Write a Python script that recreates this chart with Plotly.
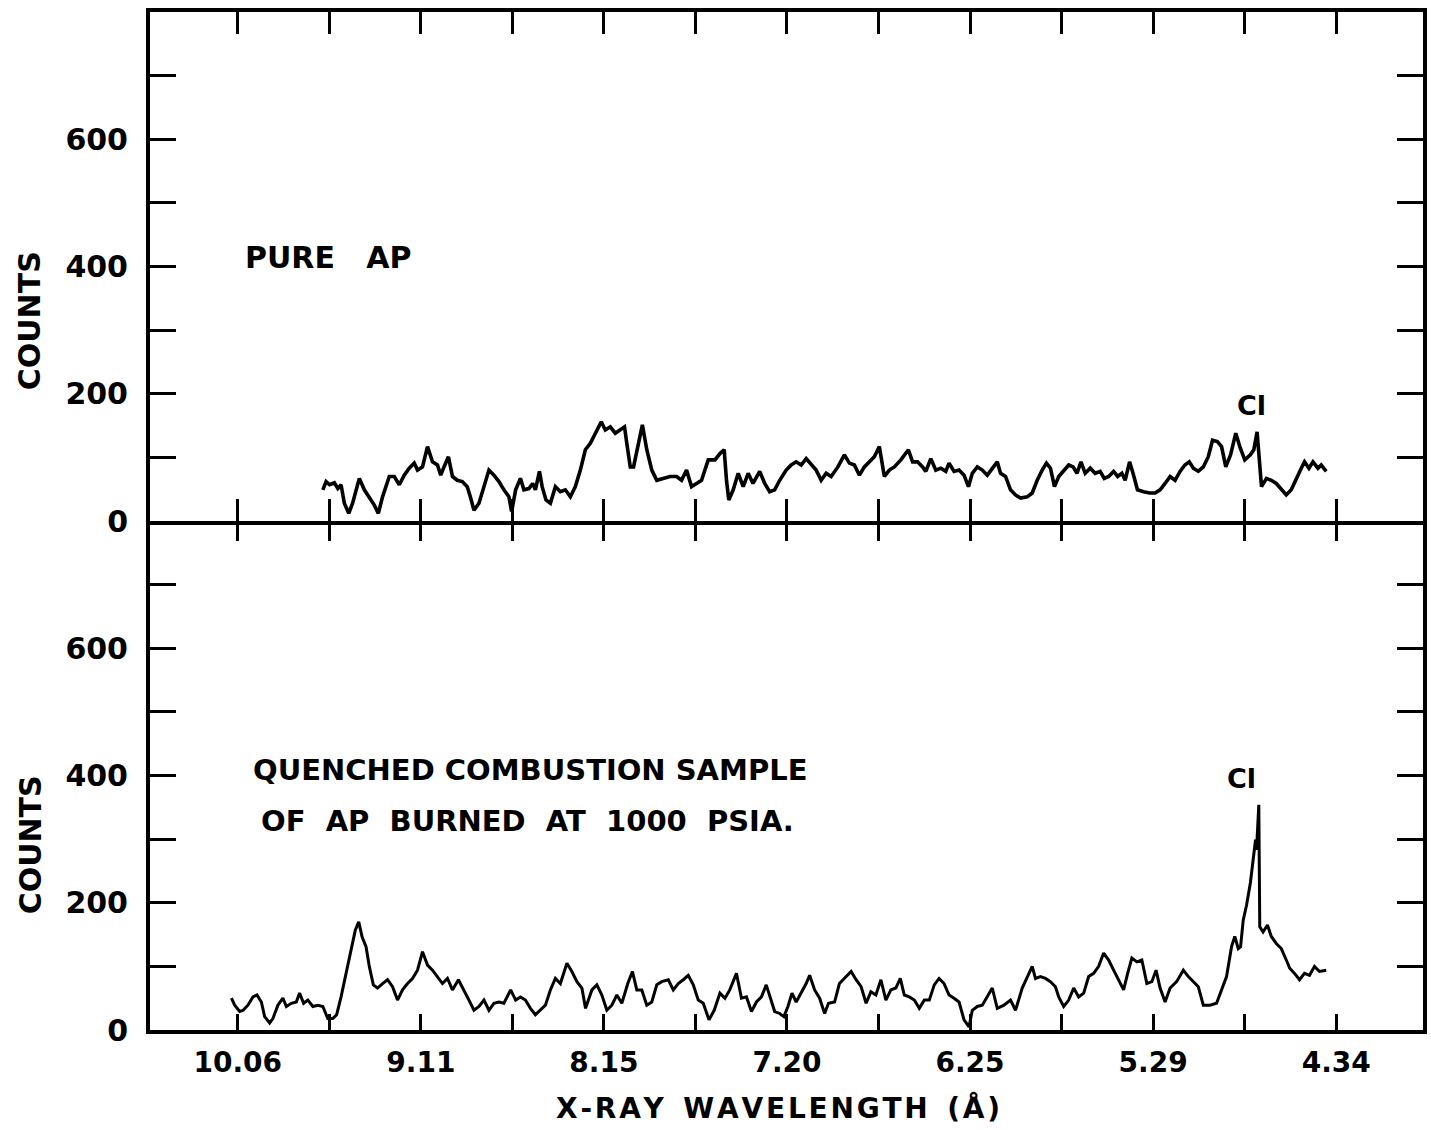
import plotly.graph_objects as go

# ---------------- data ----------------
top_wavelength = [
    9.617, 9.600, 9.582, 9.557, 9.539, 9.522, 9.505, 9.482, 9.462, 9.427,
    9.401, 9.375, 9.349, 9.328, 9.306, 9.271, 9.245, 9.219, 9.193, 9.167,
    9.141, 9.124, 9.098, 9.072, 9.046, 9.020, 9.003, 8.986, 8.963, 8.942,
    8.917, 8.891, 8.865, 8.847, 8.830, 8.804, 8.778, 8.752, 8.726, 8.700,
    8.674, 8.648, 8.634, 8.613, 8.588, 8.570, 8.544, 8.524, 8.510, 8.489,
    8.475, 8.455, 8.432, 8.406, 8.380, 8.354, 8.328, 8.302, 8.276, 8.250,
    8.224, 8.198, 8.167, 8.146, 8.120, 8.094, 8.068, 8.046, 8.034, 8.016,
    7.999, 7.973, 7.953, 7.930, 7.904, 7.878, 7.844, 7.809, 7.775, 7.749,
    7.723, 7.697, 7.671, 7.645, 7.610, 7.575, 7.549, 7.527, 7.515, 7.503,
    7.480, 7.454, 7.428, 7.402, 7.377, 7.342, 7.316, 7.290, 7.264, 7.238,
    7.204, 7.178, 7.152, 7.126, 7.100, 7.074, 7.048, 7.022, 6.996, 6.970,
    6.935, 6.901, 6.875, 6.849, 6.823, 6.797, 6.771, 6.745, 6.719, 6.693,
    6.667, 6.641, 6.607, 6.568, 6.546, 6.520, 6.494, 6.477, 6.451, 6.425,
    6.399, 6.373, 6.356, 6.330, 6.304, 6.278, 6.255, 6.235, 6.209, 6.183,
    6.157, 6.131, 6.105, 6.088, 6.062, 6.036, 6.010, 5.984, 5.949, 5.923,
    5.897, 5.871, 5.849, 5.828, 5.807, 5.785, 5.759, 5.733, 5.710, 5.690,
    5.669, 5.647, 5.621, 5.595, 5.569, 5.548, 5.525, 5.499, 5.478, 5.456,
    5.439, 5.416, 5.395, 5.375, 5.343, 5.312, 5.283, 5.257, 5.231, 5.205,
    5.179, 5.153, 5.128, 5.105, 5.084, 5.058, 5.032, 5.006, 4.984, 4.959,
    4.937, 4.915, 4.890, 4.863, 4.842, 4.816, 4.787, 4.769, 4.752, 4.738,
    4.729, 4.703, 4.678, 4.652, 4.626, 4.600, 4.574, 4.548, 4.522, 4.505,
    4.482, 4.461, 4.435, 4.418, 4.392,
]
top_counts = [
    49, 62, 57, 60, 51, 57, 28, 12, 28, 67,
    49, 38, 25, 12, 38, 70, 70, 57, 72, 83,
    91, 80, 85, 117, 93, 88, 72, 85, 101, 70,
    64, 62, 54, 36, 17, 28, 54, 80, 72, 62,
    49, 38, 15, 49, 67, 49, 51, 59, 49, 78,
    54, 33, 28, 54, 46, 49, 38, 54, 80, 112,
    122, 138, 156, 143, 148, 138, 143, 148, 122, 85,
    85, 122, 151, 112, 80, 64, 67, 70, 70, 64,
    80, 54, 59, 64, 96, 96, 106, 112, 64, 33,
    49, 75, 54, 75, 59, 78, 59, 46, 49, 64,
    80, 88, 93, 88, 98, 88, 80, 64, 75, 70,
    85, 104, 91, 88, 72, 85, 93, 101, 117, 70,
    80, 85, 96, 112, 93, 93, 85, 78, 98, 80,
    83, 78, 91, 78, 80, 72, 54, 75, 85, 80,
    72, 83, 93, 75, 70, 49, 41, 36, 38, 44,
    64, 80, 91, 83, 54, 70, 80, 88, 85, 75,
    93, 75, 83, 75, 78, 67, 70, 78, 70, 75,
    64, 93, 72, 49, 46, 44, 44, 49, 59, 70,
    64, 78, 88, 93, 83, 78, 85, 101, 127, 125,
    117, 85, 104, 138, 117, 96, 104, 112, 140, 80,
    54, 67, 64, 59, 49, 41, 49, 67, 83, 93,
    83, 93, 83, 88, 78,
]

bottom_wavelength = [
    10.093, 10.076, 10.050, 10.032, 10.007, 9.981, 9.960, 9.937, 9.920, 9.894,
    9.877, 9.851, 9.825, 9.807, 9.781, 9.755, 9.738, 9.717, 9.695, 9.669,
    9.643, 9.617, 9.591, 9.565, 9.545, 9.522, 9.496, 9.470, 9.448, 9.430,
    9.413, 9.392, 9.375, 9.354, 9.332, 9.306, 9.280, 9.254, 9.228, 9.202,
    9.176, 9.150, 9.124, 9.098, 9.072, 9.046, 9.020, 8.994, 8.968, 8.942,
    8.911, 8.882, 8.856, 8.830, 8.804, 8.778, 8.752, 8.726, 8.700, 8.674,
    8.639, 8.613, 8.588, 8.562, 8.536, 8.510, 8.484, 8.458, 8.432, 8.406,
    8.380, 8.346, 8.320, 8.294, 8.268, 8.249, 8.216, 8.190, 8.164, 8.138,
    8.112, 8.086, 8.060, 8.029, 8.005, 7.982, 7.956, 7.930, 7.904, 7.878,
    7.852, 7.818, 7.792, 7.766, 7.740, 7.714, 7.688, 7.662, 7.636, 7.606,
    7.579, 7.549, 7.523, 7.498, 7.463, 7.437, 7.411, 7.385, 7.359, 7.333,
    7.308, 7.290, 7.264, 7.238, 7.216, 7.195, 7.174, 7.152, 7.126, 7.100,
    7.082, 7.056, 7.030, 7.004, 6.984, 6.952, 6.927, 6.901, 6.866, 6.840,
    6.814, 6.788, 6.763, 6.737, 6.711, 6.685, 6.659, 6.633, 6.610, 6.589,
    6.563, 6.537, 6.511, 6.485, 6.459, 6.433, 6.408, 6.382, 6.356, 6.330,
    6.304, 6.278, 6.252, 6.235, 6.209, 6.183, 6.157, 6.131, 6.105, 6.070,
    6.036, 6.010, 5.975, 5.940, 5.923, 5.906, 5.880, 5.854, 5.828, 5.802,
    5.785, 5.759, 5.733, 5.707, 5.681, 5.655, 5.629, 5.603, 5.577, 5.551,
    5.525, 5.499, 5.473, 5.447, 5.426, 5.404, 5.378, 5.352, 5.326, 5.300,
    5.278, 5.257, 5.231, 5.205, 5.171, 5.136, 5.110, 5.084, 5.058, 5.032,
    4.998, 4.963, 4.937, 4.911, 4.885, 4.868, 4.850, 4.838, 4.824, 4.807,
    4.787, 4.772, 4.760, 4.755, 4.743, 4.738, 4.721, 4.698, 4.678, 4.652,
    4.626, 4.600, 4.582, 4.557, 4.531, 4.505, 4.479, 4.453, 4.427, 4.392,
]
bottom_counts = [
    50, 39, 29, 31, 39, 52, 55, 44, 21, 11,
    18, 39, 50, 37, 42, 44, 58, 42, 47, 37,
    39, 37, 18, 18, 24, 52, 89, 126, 157, 170,
    147, 131, 100, 71, 66, 73, 79, 68, 47, 63,
    73, 81, 94, 123, 102, 94, 84, 73, 81, 63,
    79, 63, 47, 31, 37, 47, 31, 42, 44, 42,
    63, 47, 52, 47, 34, 24, 31, 39, 63, 81,
    73, 105, 92, 76, 66, 34, 63, 71, 55, 31,
    39, 55, 42, 73, 92, 63, 63, 39, 44, 71,
    76, 79, 63, 73, 79, 86, 71, 47, 42, 16,
    31, 58, 50, 63, 89, 50, 52, 29, 44, 52,
    71, 55, 29, 26, 21, 37, 58, 44, 58, 73,
    86, 63, 50, 26, 42, 44, 73, 81, 92, 79,
    68, 42, 60, 55, 79, 47, 63, 66, 81, 55,
    52, 47, 34, 47, 47, 71, 81, 73, 55, 50,
    44, 16, 5, 31, 37, 39, 52, 66, 34, 39,
    47, 31, 66, 89, 100, 81, 84, 81, 76, 68,
    52, 37, 47, 66, 52, 58, 84, 89, 100, 121,
    110, 94, 79, 63, 89, 113, 107, 110, 73, 76,
    94, 66, 44, 66, 76, 94, 84, 76, 68, 39,
    39, 42, 63, 84, 131, 147, 128, 131, 173, 196,
    231, 272, 299, 283, 354, 162, 154, 165, 147, 136,
    128, 110, 97, 89, 79, 89, 86, 100, 92, 94,
]

# axis ticks: labelled every 0.9533 A, unlabelled half-steps between
x_major_labels = ["10.06", "9.11", "8.15", "7.20", "6.25", "5.29", "4.34"]
x_first, x_last = 10.06, 4.34
y_tick_values = [0, 100, 200, 300, 400, 500, 600, 700]
y_tick_labels = ["0", "", "200", "", "400", "", "600", ""]

step = (x_first - x_last) / 12
x_tick_values = [x_first - i * step for i in range(13)]
x_tick_text = []
for i in range(13):
    x_tick_text.append(x_major_labels[i // 2] if i % 2 == 0 else "")

X_RANGE = [10.517, 3.888]
Y_RANGE = [0, 800]
FONT = "DejaVu Sans"
BLACK = "black"

fig = go.Figure()
fig.add_trace(go.Scatter(x=top_wavelength, y=top_counts, xaxis="x2", yaxis="y2",
                         mode="lines", line=dict(color=BLACK, width=3.6),
                         hoverinfo="skip"))
fig.add_trace(go.Scatter(x=bottom_wavelength, y=bottom_counts, xaxis="x", yaxis="y",
                         mode="lines", line=dict(color=BLACK, width=3),
                         hoverinfo="skip"))
# carrier for the down-pointing tick marks on the shared middle line
fig.add_trace(go.Scatter(x=[], y=[], xaxis="x3", yaxis="y", mode="lines",
                         hoverinfo="skip"))

tickfont = dict(family=FONT, size=28, color=BLACK, weight="bold")
common_x = dict(range=X_RANGE, tickvals=x_tick_values, ticktext=x_tick_text,
                showgrid=False, zeroline=False, tickcolor=BLACK, tickwidth=3)
common_y = dict(range=Y_RANGE, tickvals=y_tick_values, ticktext=y_tick_labels,
                showgrid=False, zeroline=False, ticks="inside", ticklen=26,
                tickwidth=3, tickcolor=BLACK, showline=True, linewidth=4,
                linecolor=BLACK, mirror="ticks",
                tickfont=dict(family=FONT, size=30, color=BLACK, weight="bold"),
                ticklabelstandoff=12)

fig.update_layout(
    width=1431, height=1130,
    margin=dict(l=150, r=4, t=12, b=100),
    paper_bgcolor="white", plot_bgcolor="white",
    showlegend=False,
    xaxis=dict(**common_x, domain=[0, 1], anchor="y", ticks="inside", ticklen=16,
               showline=True, linewidth=4, linecolor=BLACK, mirror=False,
               tickfont=tickfont, ticklabelstandoff=4),
    xaxis2=dict(**common_x, domain=[0, 1], anchor="y2", ticks="inside", ticklen=22,
                showline=True, linewidth=4, linecolor=BLACK, mirror="ticks",
                showticklabels=False),
    xaxis3=dict(**common_x, overlaying="x", anchor="y", side="top", ticks="inside",
                ticklen=20, showline=False, showticklabels=False),
    yaxis=dict(**common_y, domain=[0, 0.5], anchor="x"),
    yaxis2=dict(**common_y, domain=[0.5, 1], anchor="x2"),
)

label_font = dict(family=FONT, size=29, color=BLACK, weight="bold")
hs = "\u200a"
x_title = (hs.join("X-RAY") + "\u00a0\u00a0" + hs.join("WAVELENGTH")
           + "\u00a0\u00a0" + hs.join("(Å)"))
ann = [
    dict(text="PURE\u00a0\u00a0\u00a0AP", xref="x2", yref="y2", x=10.031, y=414,
         xanchor="left", yanchor="middle", font=dict(label_font, size=30)),
    dict(text="Cl", xref="x2", yref="y2", x=4.781, y=182,
         xanchor="center", yanchor="middle", font=dict(label_font, size=27)),
    dict(text="QUENCHED\u00a0COMBUSTION\u00a0SAMPLE", xref="x", yref="y", x=9.989, y=409,
         xanchor="left", yanchor="middle", font=label_font),
    dict(text="OF\u00a0\u00a0AP\u00a0\u00a0BURNED\u00a0\u00a0AT\u00a0\u00a01000\u00a0\u00a0PSIA.",
         xref="x", yref="y", x=9.948, y=328, xanchor="left", yanchor="middle",
         font=label_font),
    dict(text="Cl", xref="x", yref="y", x=4.833, y=396,
         xanchor="center", yanchor="middle", font=dict(label_font, size=27)),
    dict(text="COUNTS", xref="paper", yref="paper", x=-0.094, y=0.6965,
         textangle=-90, xanchor="center", yanchor="middle",
         font=dict(label_font, size=30)),
    dict(text="COUNTS", xref="paper", yref="paper", x=-0.094, y=0.1817,
         textangle=-90, xanchor="center", yanchor="middle",
         font=dict(label_font, size=30)),
    dict(text=x_title, xref="paper", yref="paper",
         x=0.4933, y=-0.0766, xanchor="center", yanchor="middle",
         font=dict(label_font, size=28)),
]
for a in ann:
    a["showarrow"] = False
fig.update_layout(annotations=ann)

fig.write_html("out.html")
